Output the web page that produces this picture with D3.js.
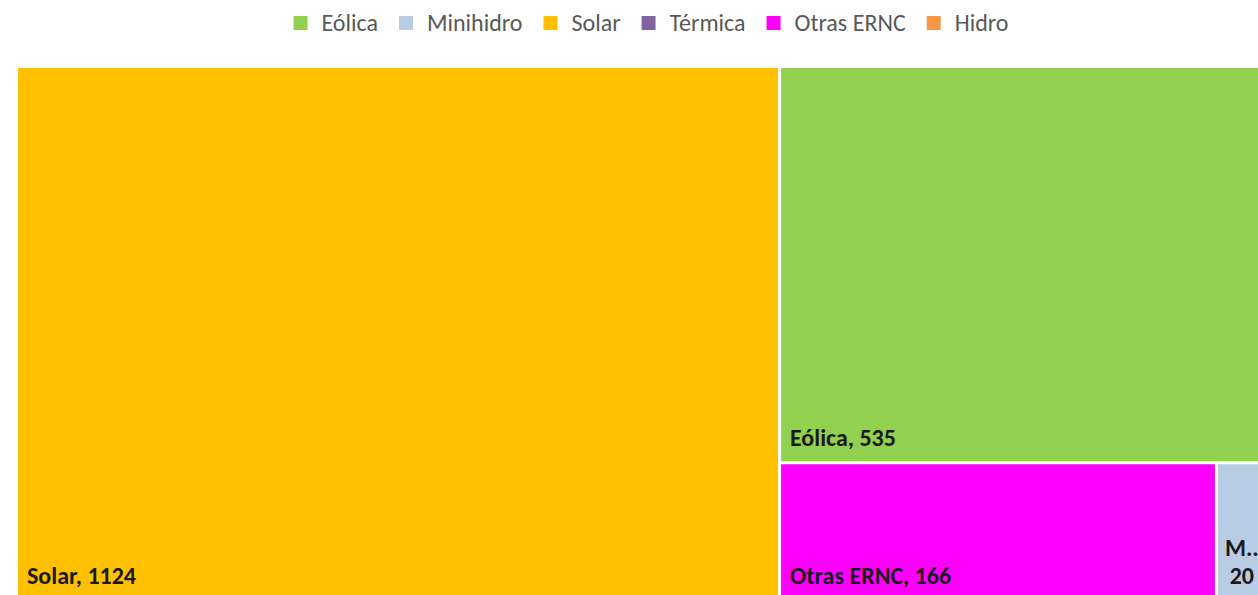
<!DOCTYPE html>
<html>
<head>
<meta charset="utf-8">
<script src="https://cdn.jsdelivr.net/npm/d3@7"></script>
<style>
  body { margin: 0; background: #fff; overflow: hidden; }
  svg { display: block; }
</style>
</head>
<body>
<svg id="chart" width="1258" height="595"></svg>
<script>
// data
var categories = ["Eólica", "Minihidro", "Solar", "Térmica", "Otras ERNC", "Hidro"];
var values = [535, 20, 1124, 0, 166, 0];
var colors = ["#92D050", "#B8CCE4", "#FFC000", "#8064A2", "#FF00FF", "#F79646"];
var shortLabels = { "Minihidro": "M.." };

var svg = d3.select("#chart");
var font = "Calibri, Carlito, Lato, sans-serif";

// legend
var legend = svg.append("g");
var lx = 0;
categories.forEach(function (c, i) {
    var item = legend.append("g").attr("transform", "translate(" + lx + ",0)");
    item.append("rect")
        .attr("x", 0).attr("y", 16)
        .attr("width", 14).attr("height", 14)
        .attr("fill", colors[i]);
    var t = item.append("text")
        .attr("x", 28).attr("y", 31)
        .attr("font-family", font)
        .attr("font-size", "24px")
        .attr("fill", "#595959")
        .text(c);
    lx += 28 + t.node().getComputedTextLength() + 21;
});
var legendW = lx - 21;
legend.attr("transform", "translate(" + (651 - legendW / 2) + ",0)");

// treemap
var data = categories.map(function (c, i) {
    return { name: c, value: values[i], color: colors[i] };
});

var root = d3.hierarchy({ children: data })
    .sum(function (d) { return d.value; })
    .sort(function (a, b) { return b.value - a.value; });

d3.treemap()
    .tile(d3.treemapSquarify)
    .size([1249.5, 531])
    .paddingInner(3)(root);

var g = svg.append("g").attr("transform", "translate(18,68)");

var cell = g.selectAll("g.cell")
    .data(root.leaves().filter(function (d) { return d.value > 0; }))
    .enter().append("g")
    .attr("class", "cell");

cell.append("rect")
    .attr("x", function (d) { return d.x0; })
    .attr("y", function (d) { return d.y0; })
    .attr("width", function (d) { return d.x1 - d.x0; })
    .attr("height", function (d) { return d.y1 - d.y0; })
    .attr("fill", function (d) { return d.data.color; });

cell.each(function (d) {
    var w = d.x1 - d.x0;
    var sel = d3.select(this);
    if (w > 120) {
        sel.append("text")
            .attr("x", d.x0 + 9)
            .attr("y", d.y1 - 15)
            .attr("font-family", font)
            .attr("font-weight", "bold")
            .attr("font-size", "24px")
            .attr("fill", "#1a1a1a")
            .text(d.data.name + ", " + d.data.value);
    } else {
        var cx = d.x0 + 24;
        var lines = [shortLabels[d.data.name] || d.data.name, String(d.data.value)];
        lines.forEach(function (l, k) {
            sel.append("text")
                .attr("x", cx)
                .attr("y", d.y1 - 43 + k * 28)
                .attr("text-anchor", "middle")
                .attr("font-family", font)
                .attr("font-weight", "bold")
                .attr("font-size", "24px")
                .attr("fill", "#1a1a1a")
                .text(l);
        });
    }
});
</script>
</body>
</html>
